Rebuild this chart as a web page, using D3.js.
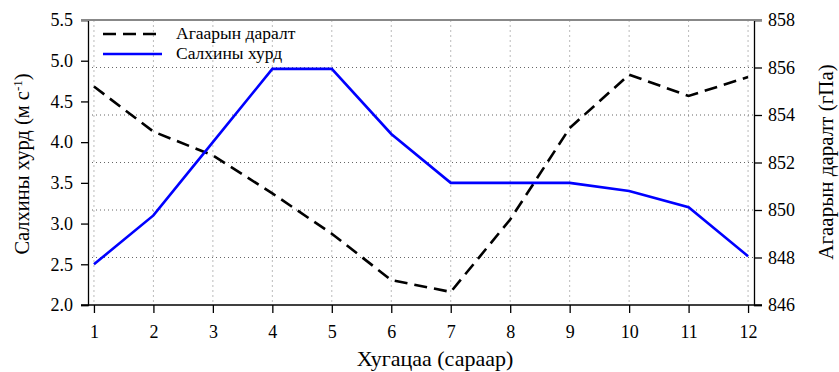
<!DOCTYPE html>
<html><head><meta charset="utf-8">
<script src="https://cdn.jsdelivr.net/npm/d3@7/dist/d3.min.js"></script>
<style>body{margin:0;background:#fff}svg{display:block}text{font-family:"Liberation Serif","Times New Roman",serif}</style>
</head><body>
<script>
const months = [1,2,3,4,5,6,7,8,9,10,11,12];
const windSpeed = [2.5,3.1,4.0,4.9,4.9,4.1,3.5,3.5,3.5,3.4,3.2,2.6];
const pressure = [855.2,853.3,852.3,850.7,849.0,847.05,846.55,849.6,853.45,855.7,854.8,855.6];
const leftTicks = [2.0,2.5,3.0,3.5,4.0,4.5,5.0,5.5];
const rightTicks = [846,848,850,852,854,856,858];
const gridTicks = [848,850,852,854,856];
const seriesNames = ["Агаарын даралт","Салхины хурд"];

const W=839,H=372;
const m={l:88,r:754,t:20,b:305};
const svg=d3.select("body").append("svg").attr("width",W).attr("height",H);
const x=d3.scaleLinear().domain([0.9,12.1]).range([m.l,m.r]);
const yL=d3.scaleLinear().domain([2,5.5]).range([m.b,m.t]);
const yR=d3.scaleLinear().domain([846,858]).range([m.b,m.t]);

// vertical grid
svg.append("g").selectAll("line").data(months).join("line")
 .attr("x1",d=>x(d)).attr("x2",d=>x(d)).attr("y1",m.t).attr("y2",m.b)
 .attr("stroke","#bbb").attr("stroke-width",1).attr("stroke-dasharray","2,3");
// horizontal grid
svg.append("g").selectAll("line").data(gridTicks).join("line")
 .attr("x1",m.l).attr("x2",m.r).attr("y1",d=>yR(d)).attr("y2",d=>yR(d))
 .attr("stroke","#666").attr("stroke-width",1).attr("stroke-dasharray","1,3");

const fs=18;
const gL=svg.append("g").attr("transform",`translate(${m.l},0)`)
 .call(d3.axisLeft(yL).tickValues(leftTicks).tickFormat(d3.format(".1f")).tickSize(7).tickPadding(8));
const gR=svg.append("g").attr("transform",`translate(${m.r},0)`)
 .call(d3.axisRight(yR).tickValues(rightTicks).tickFormat(d3.format("d")).tickSize(8).tickPadding(6));
const gB=svg.append("g").attr("transform",`translate(0,${m.b})`)
 .call(d3.axisBottom(x).tickValues(months).tickFormat(d3.format("d")).tickSize(8).tickPadding(12));
[gL,gR,gB].forEach(g=>{
  g.selectAll("text").attr("font-size",fs).attr("fill","#000").style("font-family",'"Liberation Serif",serif');
  g.selectAll("line").attr("stroke","#000").attr("stroke-width",1.3);
  g.select(".domain").attr("stroke","#000").attr("stroke-width",1.3);
});
gB.select(".domain").attr("d",`M${m.l-7},0H${m.r+8}`);
// top border
svg.append("line").attr("x1",m.l-7).attr("x2",m.r+8).attr("y1",m.t).attr("y2",m.t)
 .attr("stroke","#888").attr("stroke-width",2);

// lines
const lineL=d3.line().x((d,i)=>x(months[i])).y(d=>yL(d));
const lineR=d3.line().x((d,i)=>x(months[i])).y(d=>yR(d));
svg.append("path").attr("d",lineR(pressure)).attr("fill","none").attr("stroke","#000")
 .attr("stroke-width",2.6).attr("stroke-dasharray","13,7");
svg.append("path").attr("d",lineL(windSpeed)).attr("fill","none").attr("stroke","#0000ff")
 .attr("stroke-width",2.6);

// legend
const lg=svg.append("g");
lg.append("line").attr("x1",103).attr("x2",158).attr("y1",34).attr("y2",34)
 .attr("stroke","#000").attr("stroke-width",2.6).attr("stroke-dasharray","13,7");
lg.append("line").attr("x1",103).attr("x2",162).attr("y1",54).attr("y2",54)
 .attr("stroke","#0000ff").attr("stroke-width",2.6);
lg.append("text").attr("x",176).attr("y",39).attr("font-size",17.5).text(seriesNames[0]);
lg.append("text").attr("x",176).attr("y",59).attr("font-size",17.5).text(seriesNames[1]);

// axis titles
const tL=svg.append("text").attr("transform","translate(29,164) rotate(-90)").attr("text-anchor","middle").attr("font-size",20.5);
tL.append("tspan").text("Салхины хурд (м с");
tL.append("tspan").attr("dy",-7).attr("font-size",13).text("-1");
tL.append("tspan").attr("dy",7).text(")");
svg.append("text").attr("transform","translate(833,162) rotate(-90)").attr("text-anchor","middle").attr("font-size",21).text("Агаарын даралт (гПа)");
svg.append("text").attr("x",435).attr("y",366).attr("text-anchor","middle").attr("font-size",22).text("Хугацаа (сараар)");
</script>
</body></html>
